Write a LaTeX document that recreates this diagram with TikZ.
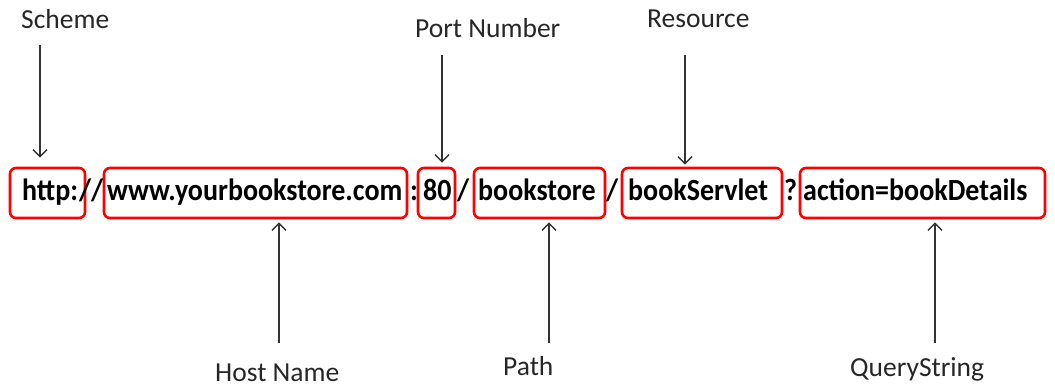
\documentclass[tikz,border=0pt]{standalone}
\usepackage{fontspec}
\usepackage{graphicx}
\setmainfont{Carlito}
\usetikzlibrary{arrows.meta,fit}
\newcommand{\tallbf}[1]{\scalebox{1}[1.1]{#1}}
\begin{document}
\begin{tikzpicture}[x=1bp,y=-1bp,
  urltext/.style={anchor=base west,inner sep=0pt,font=\fontsize{28bp}{30bp}\selectfont\bfseries,text=black},
  lbl/.style={anchor=base west,inner sep=0pt,font=\fontsize{27.5bp}{30bp}\selectfont,text=black!85},
  urlbox/.style={draw=red,line width=2.6bp,rounded corners=6bp,inner sep=0pt},
  arr/.style={draw=black!80,line width=1.4bp,-{Straight Barb[length=7bp,width=14bp,line width=1.4bp]}}]
\useasboundingbox (0,0) rectangle (1055,387);
% boxes
\node[urlbox,fit={(10,168) (85,218)}] (bhttp) {};
\node[urlbox,fit={(104,168) (407,218)}] (bhost) {};
\node[urlbox,fit={(418,168) (455,218)}] (bport) {};
\node[urlbox,fit={(474,168) (605,218)}] (bpath) {};
\node[urlbox,fit={(622,168) (782,218)}] (bres) {};
\node[urlbox,fit={(800,168) (1045,218)}] (bquery) {};
% url text
\node[urltext] (t1) at (22,200) {\tallbf{http:}};
\node[urltext] (t2) at (79,200) {\tallbf{//}};
\node[urltext] (t3) at (107,200) {\tallbf{www.yourbookstore.com}};
\node[urltext] (t4) at (410,200) {\tallbf{:}};
\node[urltext] (t5) at (423,200) {\tallbf{80}};
\node[urltext] (t6) at (457,200) {\tallbf{/}};
\node[urltext] (t7) at (478,200) {\tallbf{bookstore}};
\node[urltext] (t8) at (606,200) {\tallbf{/}};
\node[urltext] (t9) at (628,200) {\tallbf{bookServlet}};
\node[urltext] (t10) at (784,200) {\tallbf{?}};
\node[urltext] (t11) at (803,200) {\tallbf{action=bookDetails}};
% labels
\node[lbl] (lscheme) at (21,28) {Scheme};
\node[lbl] (lport) at (415,37) {Port Number};
\node[lbl] (lres) at (647,27) {Resource};
\node[lbl] (lhost) at (215,381) {Host Name};
\node[lbl] (lpath) at (503,375) {Path};
\node[lbl] (lquery) at (850,376) {QueryString};
% arrow ends
\coordinate (cscheme) at (40,45);
\coordinate (cport) at (442,55);
\coordinate (cres) at (685,55);
\coordinate (chost) at (279,343);
\coordinate (cpath) at (549,343);
\coordinate (cquery) at (935,343);
\draw[arr,shorten >=9bp] (cscheme) -- (bhttp.north -| cscheme);
\draw[arr,shorten >=4bp] (cport) -- (bport.north -| cport);
\draw[arr,shorten >=2bp] (cres) -- (bres.north -| cres);
\draw[arr,shorten >=3bp] (chost) -- (bhost.south -| chost);
\draw[arr,shorten >=3bp] (cpath) -- (bpath.south -| cpath);
\draw[arr,shorten >=3bp] (cquery) -- (bquery.south -| cquery);
\end{tikzpicture}
\end{document}
